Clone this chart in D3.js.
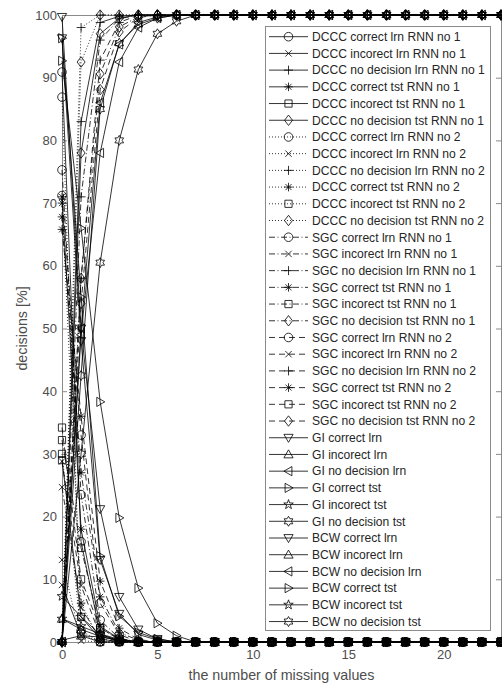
<!DOCTYPE html>
<html>
<head>
<meta charset="utf-8">
<script src="https://cdn.jsdelivr.net/npm/d3@7"></script>
<style>
  body { margin: 0; background: #fff; }
  svg { display: block; }
  text { font-family: "Liberation Sans", Arial, sans-serif; }
</style>
</head>
<body>
<svg id="chart" width="502" height="684"></svg>
<script>
// x: the number of missing values
const xValues = [0,1,2,3,4,5,6,7,8,9,10,11,12,13,14,15,16,17,18,19,20,21,22,23];
const yTicks = [0,10,20,30,40,50,60,70,80,90,100];
const xTicks = [0,5,10,15,20];

// DCCC, RNN no 1
const dcccCorrectLrn1   = [90.9,16,1.2,0.2,0,0,0,0,0,0,0,0,0,0,0,0,0,0,0,0,0,0,0,0];
const dcccIncorrectLrn1 = [9.1,1,0,0,0,0,0,0,0,0,0,0,0,0,0,0,0,0,0,0,0,0,0,0];
const dcccNoDecLrn1     = [0,83,98.8,99.8,100,100,100,100,100,100,100,100,100,100,100,100,100,100,100,100,100,100,100,100];
const dcccCorrectTst1   = [71,18,2.5,0.5,0,0,0,0,0,0,0,0,0,0,0,0,0,0,0,0,0,0,0,0];
const dcccIncorrectTst1 = [29,4,0.5,0,0,0,0,0,0,0,0,0,0,0,0,0,0,0,0,0,0,0,0,0];
const dcccNoDecTst1     = [0,78,97,99.5,100,100,100,100,100,100,100,100,100,100,100,100,100,100,100,100,100,100,100,100];
// DCCC, RNN no 2
const dcccCorrectLrn2   = [86.9,1.8,0,0,0,0,0,0,0,0,0,0,0,0,0,0,0,0,0,0,0,0,0,0];
const dcccIncorrectLrn2 = [13.1,0.2,0,0,0,0,0,0,0,0,0,0,0,0,0,0,0,0,0,0,0,0,0,0];
const dcccNoDecLrn2     = [0,98,100,100,100,100,100,100,100,100,100,100,100,100,100,100,100,100,100,100,100,100,100,100];
const dcccCorrectTst2   = [70,6.2,0,0,0,0,0,0,0,0,0,0,0,0,0,0,0,0,0,0,0,0,0,0];
const dcccIncorrectTst2 = [30,1.3,0,0,0,0,0,0,0,0,0,0,0,0,0,0,0,0,0,0,0,0,0,0];
const dcccNoDecTst2     = [0,92.5,100,100,100,100,100,100,100,100,100,100,100,100,100,100,100,100,100,100,100,100,100,100];
// SGC, RNN no 1
const sgcCorrectLrn1    = [75.3,23.5,3.5,0.6,0,0,0,0,0,0,0,0,0,0,0,0,0,0,0,0,0,0,0,0];
const sgcIncorrectLrn1  = [24.7,5.5,0.5,0,0,0,0,0,0,0,0,0,0,0,0,0,0,0,0,0,0,0,0,0];
const sgcNoDecLrn1      = [0,71,96,99.4,100,100,100,100,100,100,100,100,100,100,100,100,100,100,100,100,100,100,100,100];
const sgcCorrectTst1    = [67.8,27,7.2,1.5,0.3,0,0,0,0,0,0,0,0,0,0,0,0,0,0,0,0,0,0,0];
const sgcIncorrectTst1  = [32.2,15,2.2,0.4,0,0,0,0,0,0,0,0,0,0,0,0,0,0,0,0,0,0,0,0];
const sgcNoDecTst1      = [0,58,90.6,98.1,99.7,100,100,100,100,100,100,100,100,100,100,100,100,100,100,100,100,100,100,100];
// SGC, RNN no 2
const sgcCorrectLrn2    = [71.2,33,6.2,1.2,0,0,0,0,0,0,0,0,0,0,0,0,0,0,0,0,0,0,0,0];
const sgcIncorrectLrn2  = [28.8,9,1,0,0,0,0,0,0,0,0,0,0,0,0,0,0,0,0,0,0,0,0,0];
const sgcNoDecLrn2      = [0,58,92.8,98.8,100,100,100,100,100,100,100,100,100,100,100,100,100,100,100,100,100,100,100,100];
const sgcCorrectTst2    = [65.8,36,9.7,2.2,0.4,0,0,0,0,0,0,0,0,0,0,0,0,0,0,0,0,0,0,0];
const sgcIncorrectTst2  = [34.2,10,2.2,0.5,0,0,0,0,0,0,0,0,0,0,0,0,0,0,0,0,0,0,0,0];
const sgcNoDecTst2      = [0,54,88.1,97.3,99.6,100,100,100,100,100,100,100,100,100,100,100,100,100,100,100,100,100,100,100];
// GI
const giCorrectLrn      = [99.7,50,21.2,7.2,2,0.5,0,0,0,0,0,0,0,0,0,0,0,0,0,0,0,0,0,0];
const giIncorrectLrn    = [0.3,1,0.8,0.3,0,0,0,0,0,0,0,0,0,0,0,0,0,0,0,0,0,0,0,0];
const giNoDecLrn        = [0,49,78,92.5,98,99.5,100,100,100,100,100,100,100,100,100,100,100,100,100,100,100,100,100,100];
const giCorrectTst      = [92.7,66,38.3,19.8,8.6,3,1,0,0,0,0,0,0,0,0,0,0,0,0,0,0,0,0,0];
const giIncorrectTst    = [7.3,4,1.2,0.2,0.1,0,0,0,0,0,0,0,0,0,0,0,0,0,0,0,0,0,0,0];
const giNoDecTst        = [0,30,60.5,80,91.3,97,99,100,100,100,100,100,100,100,100,100,100,100,100,100,100,100,100,100];
// BCW
const bcwCorrectLrn     = [96.3,48,13.1,4.5,1.2,0.3,0,0,0,0,0,0,0,0,0,0,0,0,0,0,0,0,0,0];
const bcwIncorrectLrn   = [3.7,2,0.9,0.2,0,0,0,0,0,0,0,0,0,0,0,0,0,0,0,0,0,0,0,0];
const bcwNoDecLrn       = [0,50,86,95.3,98.8,99.7,100,100,100,100,100,100,100,100,100,100,100,100,100,100,100,100,100,100];
const bcwCorrectTst     = [96.3,55,13.7,4.1,1.5,0.5,0,0,0,0,0,0,0,0,0,0,0,0,0,0,0,0,0,0];
const bcwIncorrectTst   = [3.7,2.5,1.3,0.4,0,0,0,0,0,0,0,0,0,0,0,0,0,0,0,0,0,0,0,0];
const bcwNoDecTst       = [0,42.5,85,95.5,98.5,99.5,100,100,100,100,100,100,100,100,100,100,100,100,100,100,100,100,100,100];

// series: legend label, values, marker, line style
const series = [
  ["DCCC correct lrn RNN no 1", dcccCorrectLrn1, "o", "-"],
  ["DCCC incorect lrn RNN no 1", dcccIncorrectLrn1, "x", "-"],
  ["DCCC no decision lrn RNN no 1", dcccNoDecLrn1, "+", "-"],
  ["DCCC correct tst RNN no 1", dcccCorrectTst1, "*", "-"],
  ["DCCC incorect tst RNN no 1", dcccIncorrectTst1, "s", "-"],
  ["DCCC no decision tst RNN no 1", dcccNoDecTst1, "d", "-"],
  ["DCCC correct lrn RNN no 2", dcccCorrectLrn2, "o", ":"],
  ["DCCC incorect lrn RNN no 2", dcccIncorrectLrn2, "x", ":"],
  ["DCCC no decision lrn RNN no 2", dcccNoDecLrn2, "+", ":"],
  ["DCCC correct tst RNN no 2", dcccCorrectTst2, "*", ":"],
  ["DCCC incorect tst RNN no 2", dcccIncorrectTst2, "s", ":"],
  ["DCCC no decision tst RNN no 2", dcccNoDecTst2, "d", ":"],
  ["SGC correct lrn RNN no 1", sgcCorrectLrn1, "o", "-."],
  ["SGC incorect lrn RNN no 1", sgcIncorrectLrn1, "x", "-."],
  ["SGC no decision lrn RNN no 1", sgcNoDecLrn1, "+", "-."],
  ["SGC correct tst RNN no 1", sgcCorrectTst1, "*", "-."],
  ["SGC incorect tst RNN no 1", sgcIncorrectTst1, "s", "-."],
  ["SGC no decision tst RNN no 1", sgcNoDecTst1, "d", "-."],
  ["SGC correct lrn RNN no 2", sgcCorrectLrn2, "o", "--"],
  ["SGC incorect lrn RNN no 2", sgcIncorrectLrn2, "x", "--"],
  ["SGC no decision lrn RNN no 2", sgcNoDecLrn2, "+", "--"],
  ["SGC correct tst RNN no 2", sgcCorrectTst2, "*", "--"],
  ["SGC incorect tst RNN no 2", sgcIncorrectTst2, "s", "--"],
  ["SGC no decision tst RNN no 2", sgcNoDecTst2, "d", "--"],
  ["GI correct lrn", giCorrectLrn, "v", "-"],
  ["GI incorect lrn", giIncorrectLrn, "^", "-"],
  ["GI no decision lrn", giNoDecLrn, "<", "-"],
  ["GI correct tst", giCorrectTst, ">", "-"],
  ["GI incorect tst", giIncorrectTst, "p", "-"],
  ["GI no decision tst", giNoDecTst, "h", "-"],
  ["BCW correct lrn", bcwCorrectLrn, "v", "-"],
  ["BCW incorect lrn", bcwIncorrectLrn, "^", "-"],
  ["BCW no decision lrn", bcwNoDecLrn, "<", "-"],
  ["BCW correct tst", bcwCorrectTst, ">", "-"],
  ["BCW incorect tst", bcwIncorrectTst, "p", "-"],
  ["BCW no decision tst", bcwNoDecTst, "h", "-"]
];

const dashes = { "-": null, ":": "1,2", "-.": "6,2.5,1,2.5", "--": "6,4" };

function starPath(n, ro, ri) {
  const pts = [];
  for (let i = 0; i < 2 * n; i++) {
    const a = -Math.PI / 2 + i * Math.PI / n;
    const r = i % 2 ? ri : ro;
    pts.push([r * Math.cos(a), r * Math.sin(a)]);
  }
  return "M" + pts.map(p => p[0].toFixed(2) + "," + p[1].toFixed(2)).join("L") + "Z";
}

function markerPath(m) {
  switch (m) {
    case "o": return "M4.3,0A4.3,4.3 0 1,1 -4.3,0A4.3,4.3 0 1,1 4.3,0Z";
    case "x": return "M-3.2,-3.2L3.2,3.2M-3.2,3.2L3.2,-3.2";
    case "+": return "M-4.5,0L4.5,0M0,-4.5L0,4.5";
    case "*": return "M-4.3,0L4.3,0M0,-4.3L0,4.3M-3,-3L3,3M-3,3L3,-3";
    case "s": return "M-3.6,-3.6L3.6,-3.6L3.6,3.6L-3.6,3.6Z";
    case "d": return "M0,-5.2L4,0L0,5.2L-4,0Z";
    case "v": return "M-4.6,-3.4L4.6,-3.4L0,4.6Z";
    case "^": return "M-4.6,3.4L4.6,3.4L0,-4.6Z";
    case "<": return "M3.4,-4.6L3.4,4.6L-4.6,0Z";
    case ">": return "M-3.4,-4.6L-3.4,4.6L4.6,0Z";
    case "p": return starPath(5, 5, 2);
    case "h": return starPath(6, 5, 2.9);
  }
}

const svg = d3.select("#chart");
const x = d3.scaleLinear().domain([0, 23]).range([62, 501]);
const y = d3.scaleLinear().domain([0, 100]).range([642, 15]);

const textColor = "#4d4d4d";
const axisColor = "#8a8a8a";

// axes box with inward ticks
const gLeft = svg.append("g").attr("transform", `translate(${x(0)},0)`)
  .call(d3.axisLeft(y).tickValues(yTicks).tickSize(-5).tickPadding(5));
const gBottom = svg.append("g").attr("transform", `translate(0,${y(0)})`)
  .call(d3.axisBottom(x).tickValues(xTicks).tickSize(-5).tickPadding(8));
const gRight = svg.append("g").attr("transform", `translate(${x(23)},0)`)
  .call(d3.axisRight(y).tickValues(yTicks).tickSize(-5).tickFormat(""));
const gTop = svg.append("g").attr("transform", `translate(0,${y(100)})`)
  .call(d3.axisTop(x).tickValues(xTicks).tickSize(-5).tickFormat(""));
[gLeft, gBottom, gRight, gTop].forEach(g => {
  g.selectAll("path.domain").attr("stroke", axisColor).attr("stroke-width", 1);
  g.selectAll(".tick line").attr("stroke", axisColor).attr("stroke-width", 1);
  g.selectAll(".tick text").attr("fill", textColor).style("font-size", "13px")
    .style("font-family", '"Liberation Sans", Arial, sans-serif');
});

// axis titles
svg.append("text")
  .attr("x", (x(0) + x(23)) / 2).attr("y", 680)
  .attr("text-anchor", "middle").attr("fill", textColor).style("font-size", "14.3px")
  .text("the number of missing values");
svg.append("text")
  .attr("transform", `translate(27,${(y(0) + y(100)) / 2}) rotate(-90)`)
  .attr("text-anchor", "middle").attr("fill", textColor).style("font-size", "14.3px")
  .text("decisions [%]");

// data lines and markers
const line = d3.line().x((d, i) => x(xValues[i])).y(d => y(d));
const plot = svg.append("g");
series.forEach(([label, values, marker, style]) => {
  const g = plot.append("g");
  g.append("path").datum(values)
    .attr("d", line)
    .attr("fill", "none").attr("stroke", "#000").attr("stroke-width", 0.8)
    .attr("stroke-dasharray", dashes[style]);
  g.selectAll("path.mk").data(values).enter().append("path")
    .attr("class", "mk")
    .attr("transform", (d, i) => `translate(${x(xValues[i])},${y(d)})`)
    .attr("d", markerPath(marker))
    .attr("fill", "none").attr("stroke", "#000").attr("stroke-width", 0.8);
});

// legend
const leg = svg.append("g");
const rowH = 16.71, row0 = 36.7;
leg.append("rect")
  .attr("x", 265.5).attr("y", 26.5).attr("width", 225).attr("height", 604)
  .attr("fill", "#fff").attr("stroke", axisColor).attr("stroke-width", 1);
series.forEach(([label, values, marker, style], i) => {
  const cy = row0 + i * rowH;
  leg.append("path")
    .attr("d", `M269,${cy}L308,${cy}`)
    .attr("stroke", "#000").attr("stroke-width", 0.8)
    .attr("stroke-dasharray", dashes[style]);
  leg.append("path")
    .attr("transform", `translate(288.5,${cy})`)
    .attr("d", markerPath(marker))
    .attr("fill", "none").attr("stroke", "#000").attr("stroke-width", 0.8);
  leg.append("text")
    .attr("x", 312).attr("y", cy + 4.3)
    .attr("fill", "#262626").style("font-size", "12.1px")
    .text(label);
});
</script>
</body>
</html>
